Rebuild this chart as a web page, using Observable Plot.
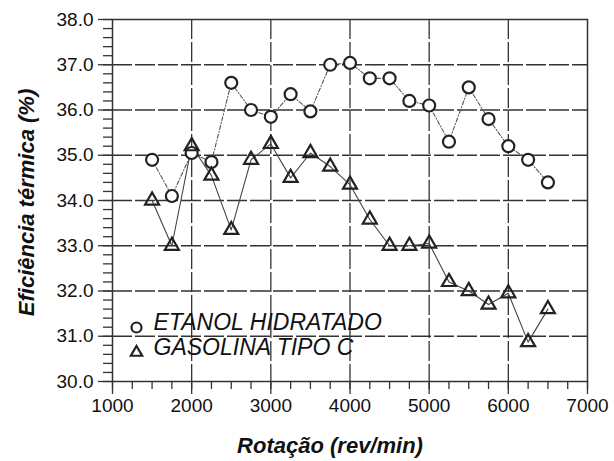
<!DOCTYPE html>
<html>
<head>
<meta charset="utf-8">
<script src="https://cdn.jsdelivr.net/npm/d3@7"></script>
<script src="https://cdn.jsdelivr.net/npm/@observablehq/plot@0.6"></script>
<style>
  html, body { margin: 0; padding: 0; background: #fff; }
</style>
</head>
<body>
<div id="chart"></div>
<script>
// Data
const rpm = [1500, 1750, 2000, 2250, 2500, 2750, 3000, 3250, 3500, 3750, 4000,
             4250, 4500, 4750, 5000, 5250, 5500, 5750, 6000, 6250, 6500];
const etanol = [34.9, 34.1, 35.05, 34.85, 36.6, 36.0, 35.85, 36.35, 35.97, 37.0, 37.04,
                36.7, 36.7, 36.2, 36.1, 35.3, 36.5, 35.8, 35.2, 34.9, 34.4];
const gasolina = [34.0, 33.0, 35.2, 34.55, 33.35, 34.9, 35.25, 34.5, 35.05, 34.75, 34.35,
                  33.58, 33.0, 33.0, 33.05, 32.2, 32.0, 31.7, 31.95, 30.87, 31.6];
const seriesNames = ["ETANOL HIDRATADO", "GASOLINA TIPO C"];
const xMajor = [1000, 2000, 3000, 4000, 5000, 6000, 7000];
const xMinor = d3.range(1000, 7001, 250);
const yMajor = [30, 31, 32, 33, 34, 35, 36, 37, 38];
const yMinor = d3.range(0, 41).map(i => 30 + i * 0.2);
const xTitle = "Rotação (rev/min)";
const yTitle = "Eficiência térmica (%)";

const etanolData = rpm.map((r, i) => ({rpm: r, v: etanol[i]}));
const gasolinaData = rpm.map((r, i) => ({rpm: r, v: gasolina[i]}));

const ink = "#111";
const chart = Plot.plot({
  width: 614,
  height: 461,
  marginLeft: 112,
  marginRight: 27,
  marginTop: 19,
  marginBottom: 80,
  x: {domain: [1000, 7000]},
  y: {domain: [30, 38]},
  style: {fontFamily: "'Liberation Sans', Arial, sans-serif", color: ink, background: "#fff"},
  marks: [
    Plot.gridX(xMajor.slice(1, -1), {stroke: "#333", strokeOpacity: 1, strokeWidth: 1.3, strokeDasharray: "20,3"}),
    Plot.gridY(yMajor.slice(1, -1), {stroke: "#333", strokeOpacity: 1, strokeWidth: 1.3, strokeDasharray: "20,3"}),
    Plot.frame({stroke: "#333", strokeWidth: 1.5}),
    Plot.axisX(xMinor, {tickSize: 8, tickFormat: () => "", stroke: "#333", strokeWidth: 1.3, label: null}),
    Plot.axisX(xMajor, {tickSize: 13, tickFormat: d => String(d), fontSize: 19, tickPadding: 4, stroke: "#333", strokeWidth: 1.3, label: null}),
    Plot.axisY(yMinor, {tickSize: 9, tickFormat: () => "", stroke: "#333", strokeWidth: 1.3, label: null}),
    Plot.axisY(yMajor, {tickSize: 14, tickFormat: d => d.toFixed(1), fontSize: 19, tickPadding: 5, stroke: "#333", strokeWidth: 1.3, label: null}),
    Plot.text([xTitle], {frameAnchor: "bottom", textAnchor: "middle", lineAnchor: "bottom", dx: -20, dy: 71, fontSize: 22, fontWeight: "bold", fontStyle: "italic", fill: ink}),
    Plot.text([yTitle], {frameAnchor: "left", textAnchor: "middle", lineAnchor: "middle", dx: -86, dy: 2, rotate: -90, fontSize: 22, fontWeight: "bold", fontStyle: "italic", fill: ink}),
    Plot.line(gasolinaData, {x: "rpm", y: "v", stroke: "#444", strokeWidth: 1.1}),
    Plot.line(etanolData, {x: "rpm", y: "v", stroke: "#555", strokeWidth: 1.1, strokeDasharray: "4,2,1,2"}),
    Plot.dot(etanolData, {x: "rpm", y: "v", r: 6, symbol: "circle", stroke: "#222", strokeWidth: 2.2, fill: "#fff"}),
    Plot.dot(gasolinaData, {x: "rpm", y: "v", r: 5.2, symbol: "triangle", stroke: "#222", strokeWidth: 2.2, fill: "none"}),
    // legend
    Plot.dot([seriesNames[0]], {frameAnchor: "bottom-left", dx: 24, dy: -54, r: 5, symbol: "circle", stroke: "#222", strokeWidth: 2.2, fill: "#fff"}),
    Plot.dot([seriesNames[1]], {frameAnchor: "bottom-left", dx: 24, dy: -29, r: 4.2, symbol: "triangle", stroke: "#222", strokeWidth: 2.2, fill: "none"}),
    Plot.text([seriesNames[0]], {frameAnchor: "bottom-left", dx: 41, dy: -52, textAnchor: "start", fontSize: 23, fontStyle: "italic", fill: ink}),
    Plot.text([seriesNames[1]], {frameAnchor: "bottom-left", dx: 41, dy: -27, textAnchor: "start", fontSize: 23, fontStyle: "italic", fill: ink})
  ]
});
document.getElementById("chart").appendChild(chart);
</script>
</body>
</html>
